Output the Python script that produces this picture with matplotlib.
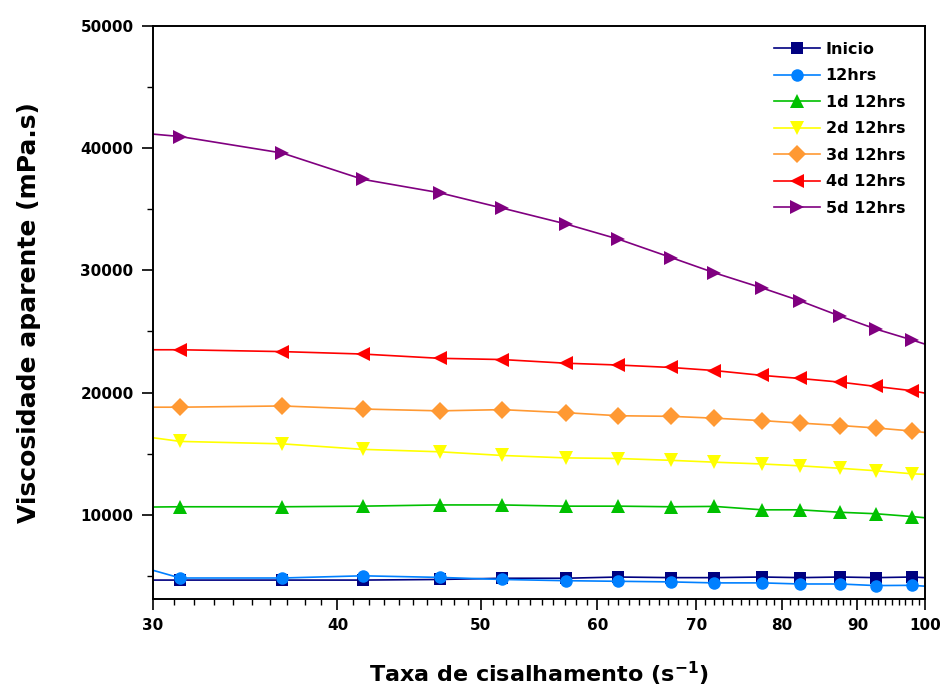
import matplotlib
matplotlib.use("Agg")
import matplotlib.pyplot as plt
from matplotlib.ticker import FixedLocator, NullFormatter, FixedFormatter

# Shear rate (s^-1) at each reading
shear_rate = [31.3, 36.7, 41.6, 46.9, 51.7, 57.1, 62.0, 67.3, 72.0, 77.6, 82.3, 87.6, 92.6, 98.0]

# Apparent viscosity (mPa.s) per storage time
inicio  = [4650, 4650, 4650, 4700, 4800, 4800, 4900, 4850, 4850, 4900, 4850, 4900, 4850, 4900]
h12     = [4820, 4820, 5000, 4870, 4700, 4600, 4550, 4500, 4420, 4420, 4330, 4330, 4200, 4220]
d1h12   = [10650, 10650, 10700, 10800, 10800, 10700, 10700, 10650, 10680, 10400, 10400, 10200, 10080, 9850]
d2h12   = [16000, 15800, 15350, 15150, 14850, 14650, 14600, 14450, 14300, 14150, 14000, 13800, 13600, 13350]
d3h12   = [18800, 18900, 18650, 18500, 18600, 18350, 18100, 18050, 17900, 17700, 17500, 17300, 17100, 16850]
d4h12   = [23500, 23350, 23150, 22800, 22700, 22400, 22250, 22050, 21800, 21400, 21150, 20850, 20500, 20150]
d5h12   = [40950, 39600, 37450, 36350, 35100, 33800, 32550, 31050, 29800, 28550, 27500, 26250, 25200, 24300]

# Curve values where each line meets the x-range limits (30 and 100 s^-1)
edge_lo = [4650, 5450, 10630, 16300, 18800, 23500, 41150]
edge_hi = [4850, 4150, 9750, 13300, 16730, 19950, 23960]

labels = ["Inicio", "12hrs", "1d 12hrs", "2d 12hrs", "3d 12hrs", "4d 12hrs", "5d 12hrs"]
series = [inicio, h12, d1h12, d2h12, d3h12, d4h12, d5h12]
colors = ["#000080", "#0080FF", "#00C000", "#FFFF00", "#FF9933", "#FF0000", "#800080"]
markers = ["s", "o", "^", "v", "D", "<", ">"]
msizes = [8, 9, 9.5, 9.5, 9, 9.5, 9.5]

x_ticks = [30, 40, 50, 60, 70, 80, 90, 100]
y_ticks = [10000, 20000, 30000, 40000, 50000]

plt.rcParams["font.family"] = ["DejaVu Sans"]
plt.rcParams["font.weight"] = "bold"

fig = plt.figure(figsize=(9.41, 6.89), dpi=100)
ax = fig.add_axes([0.1626, 0.1306, 0.8204, 0.8317])

x_min, x_max = x_ticks[0], x_ticks[-1]
for vals, lo, hi, lab, c, m, ms in zip(series, edge_lo, edge_hi, labels, colors, markers, msizes):
    xs = [x_min] + shear_rate + [x_max]
    ys = [lo] + vals + [hi]
    ax.plot(xs, ys, color=c, lw=1.2, marker=m, markersize=ms,
            markevery=slice(1, len(xs) - 1), markeredgewidth=0,
            label=lab, clip_on=True)

ax.set_xscale("log")
ax.set_xlim(x_min, x_max)
ax.set_ylim(3100, 50000)

ax.xaxis.set_major_locator(FixedLocator(x_ticks))
ax.xaxis.set_major_formatter(FixedFormatter([str(t) for t in x_ticks]))
ax.xaxis.set_minor_locator(FixedLocator(list(range(31, 100))))
ax.xaxis.set_minor_formatter(NullFormatter())

ax.yaxis.set_major_locator(FixedLocator(y_ticks))
ax.yaxis.set_minor_locator(FixedLocator([5000, 15000, 25000, 35000, 45000]))

ax.tick_params(which="major", direction="out", length=8, width=1.2,
               labelsize=11, pad=6, top=False, right=False)
ax.tick_params(which="minor", direction="out", length=4, width=1.0,
               top=False, right=False)
for lab in ax.get_xticklabels() + ax.get_yticklabels():
    lab.set_fontweight("bold")

for sp in ax.spines.values():
    sp.set_linewidth(1.4)

ax.set_xlabel(r"Taxa de cisalhamento (s$^{\mathbf{-1}}$)", fontsize=16,
              fontweight="bold", labelpad=19)
ax.set_ylabel("Viscosidade aparente (mPa.s)", fontsize=18,
              fontweight="bold", labelpad=28)

leg = ax.legend(loc="upper right", frameon=False, fontsize=11.5,
                handlelength=2.9, handletextpad=0.35, labelspacing=0.72,
                borderaxespad=0.6, bbox_to_anchor=(0.995, 1.0))
for t in leg.get_texts():
    t.set_fontweight("bold")

fig.savefig("out.png", dpi=100)
